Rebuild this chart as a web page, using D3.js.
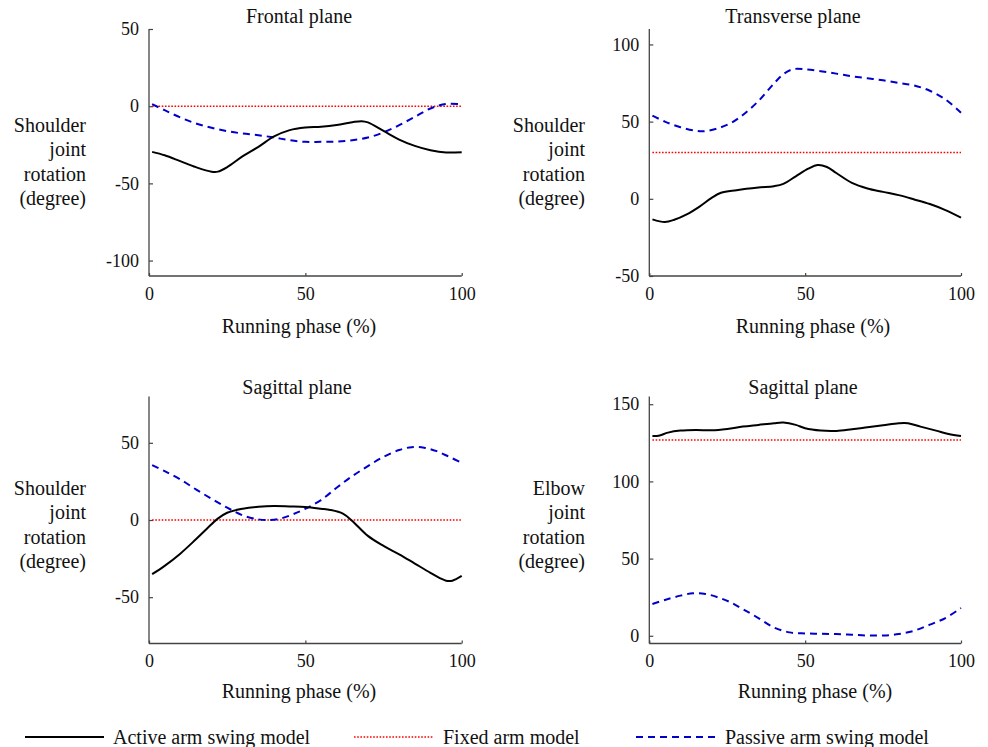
<!DOCTYPE html>
<html><head><meta charset="utf-8">
<script src="https://cdn.jsdelivr.net/npm/d3@7"></script>
<style>
body{margin:0;background:#fff;}
text{font-family:"Liberation Serif","Times New Roman",serif;fill:#111;}
</style></head>
<body><svg id="c" width="988" height="747"></svg>
<script>
// ---------- DATA ----------
const seriesNames = ["Active arm swing model","Fixed arm model","Passive arm swing model"];
const xTicks = [0,50,100];

// Panel 1: Frontal plane, shoulder
const p1Active = [[1,-29.6],[5,-31.8],[10,-35.6],[15,-39.5],[20,-42.4],[22,-42.4],[25,-39.5],[30,-32.4],[35,-26.3],[40,-19.6],[45,-15.5],[50,-13.8],[55,-13.3],[60,-12.2],[65,-10.4],[68,-9.7],[70,-10.5],[75,-16],[80,-21.6],[85,-25.7],[90,-28.5],[95,-30],[100,-29.8]];
const p1Fixed = [[1,0],[100,0]];
const p1Passive = [[1,1.3],[5,-2.6],[10,-7.3],[15,-11.2],[20,-14],[25,-16.2],[30,-17.7],[35,-18.8],[40,-20.3],[45,-22],[50,-23.1],[55,-23.1],[60,-22.9],[65,-22],[70,-20.3],[75,-17],[80,-12.3],[85,-6.9],[90,-1.5],[95,1.5],[100,1.3]];

// Panel 2: Transverse plane, shoulder
const p2Active = [[1,-13.3],[5,-15],[8,-13.6],[12,-10.1],[16,-5.2],[20,0.6],[23,3.9],[28,5.6],[35,7.3],[40,8.2],[43,9.7],[47,14.6],[51,19.5],[54,21.9],[57,20.6],[60,16.7],[65,10.3],[70,6.7],[75,4.5],[80,2.4],[85,-0.4],[90,-3.4],[95,-7.3],[100,-12.2]];
const p2Fixed = [[1,30],[100,30]];
const p2Passive = [[1,53.9],[5,50],[10,46.4],[15,44],[18,43.8],[22,45.7],[26,48.9],[30,54.3],[35,63.3],[40,74.7],[43,80.7],[46,83.9],[50,83.9],[55,82.6],[60,81.1],[65,79.4],[70,78.1],[75,76.8],[80,75.1],[85,73.4],[90,70],[95,64.4],[100,55.8]];

// Panel 3: Sagittal plane, shoulder
const p3Active = [[1,-35.1],[5,-29.7],[10,-21.8],[15,-12.5],[20,-2.8],[22,0.9],[25,4.7],[30,7.3],[35,8.6],[40,9.1],[45,8.8],[50,8.4],[55,7.3],[58,6.5],[62,4.1],[65,-0.6],[70,-10.3],[75,-16.8],[80,-22.2],[85,-28.2],[90,-34.2],[93,-37.6],[95,-39.3],[97,-39.3],[100,-36.2]];
const p3Fixed = [[1,0],[100,0]];
const p3Passive = [[1,35.6],[5,31.7],[10,26.3],[15,19.8],[20,13.8],[25,8],[30,3],[35,0.4],[38,0],[42,0.9],[46,3.7],[50,7.3],[55,12.9],[60,20.9],[65,28.4],[70,34.9],[75,40.9],[80,45.3],[84,47.2],[88,46.8],[92,44.6],[96,40.9],[100,37.1]];

// Panel 4: Sagittal plane, elbow
const p4Active = [[1,129.4],[3,129.6],[6,131.6],[10,132.9],[15,133.3],[20,133.1],[25,134],[30,135.5],[35,136.6],[40,137.7],[43,138.1],[47,136.6],[50,134.4],[55,132.9],[60,132.7],[65,133.8],[70,135.1],[75,136.4],[80,137.7],[83,137.7],[87,135.5],[92,132.9],[96,130.7],[100,129.4]];
const p4Fixed = [[1,126.8],[100,126.8]];
const p4Passive = [[1,20.6],[5,23.2],[10,26],[14,27.5],[18,27.1],[22,24.9],[26,21.7],[30,17.3],[35,11.5],[40,5.4],[45,2.2],[50,1.5],[55,1.3],[60,1.1],[65,0.7],[70,0.2],[75,0.2],[80,1.1],[85,3.3],[90,7.2],[95,11.5],[100,18]];

const titles = ["Frontal plane","Transverse plane","Sagittal plane","Sagittal plane"];
const yLabels = [["Shoulder","joint","rotation","(degree)"],["Shoulder","joint","rotation","(degree)"],["Shoulder","joint","rotation","(degree)"],["Elbow","joint","rotation","(degree)"]];
const yDomains = [[-110,50],[-50,110],[-80,80],[-5,155]];
const yTicks = [[-100,-50,0,50],[-50,0,50,100],[-50,0,50],[0,50,100,150]];
const xLabel = "Running phase (%)";

// ---------- LAYOUT ----------
const panels = [
  {x0:149, x1:461.7, yT:29, yB:276, title:[299,23], xl:[299,333], yl:[86,132], active:p1Active, fixed:p1Fixed, passive:p1Passive},
  {x0:649.3, x1:961, yT:29, yB:276, title:[793,23], xl:[813,333], yl:[585,132], active:p2Active, fixed:p2Fixed, passive:p2Passive},
  {x0:149, x1:461.7, yT:396.5, yB:643.5, title:[297,394], xl:[299,698], yl:[86,495], active:p3Active, fixed:p3Fixed, passive:p3Passive},
  {x0:649.3, x1:961, yT:396.5, yB:643.5, title:[803,394], xl:[815,698], yl:[585,495], active:p4Active, fixed:p4Fixed, passive:p4Passive}
];
const styles = {
  active:{stroke:"#000", width:2, dash:null},
  fixed:{stroke:"#ff0000", width:1.6, dash:"1.6,1.6"},
  passive:{stroke:"#0000cc", width:2, dash:"7,5"}
};

const svg = d3.select("#c");
const axisColor = "#444";

panels.forEach((p,i)=>{
  const x = d3.scaleLinear().domain([0,100]).range([p.x0,p.x1]);
  const y = d3.scaleLinear().domain(yDomains[i]).range([p.yB,p.yT]);
  const g = svg.append("g");

  const xa = g.append("g").attr("transform",`translate(0,${p.yB})`)
    .call(d3.axisBottom(x).tickValues(xTicks).tickSize(-3).tickPadding(11).tickFormat(d3.format("d")));
  const ya = g.append("g").attr("transform",`translate(${p.x0},0)`)
    .call(d3.axisLeft(y).tickValues(yTicks[i]).tickSize(-4).tickPadding(10).tickFormat(d=>d<0?"-"+Math.abs(d):d));
  [xa,ya].forEach(a=>{
    a.attr("font-family",null);
    a.select(".domain").attr("stroke",axisColor).attr("stroke-width",1.3);
    a.selectAll(".tick line").attr("stroke",axisColor).attr("stroke-width",1.2);
    a.selectAll(".tick text").attr("font-size",18).attr("fill","#111");
  });
  xa.select(".domain").attr("d",`M${p.x0},0H${p.x1}`);
  ya.select(".domain").attr("d",`M0,${p.yB}V${p.yT}`);

  const line = d3.line().x(d=>x(d[0])).y(d=>y(d[1])).curve(d3.curveCatmullRom.alpha(0.5));
  ["fixed","passive","active"].forEach(k=>{
    const s = styles[k];
    g.append("path").datum(p[k]).attr("d",line).attr("fill","none")
      .attr("stroke",s.stroke).attr("stroke-width",s.width)
      .attr("stroke-dasharray",s.dash).attr("stroke-linejoin","round");
  });

  g.append("text").attr("x",p.title[0]).attr("y",p.title[1]).attr("text-anchor","middle").attr("font-size",20).text(titles[i]);
  g.append("text").attr("x",p.xl[0]).attr("y",p.xl[1]).attr("text-anchor","middle").attr("font-size",20).text(xLabel);
  yLabels[i].forEach((t,j)=>{
    g.append("text").attr("x",p.yl[0]).attr("y",p.yl[1]+j*24.3).attr("text-anchor","end").attr("font-size",20).text(t);
  });
});

// legend
const legendX = [[25,104,113],[354,434,443],[636,715,725]];
const legKeys = ["active","fixed","passive"];
const lg = svg.append("g");
legKeys.forEach((k,i)=>{
  const s = styles[k];
  lg.append("line").attr("x1",legendX[i][0]).attr("x2",legendX[i][1]).attr("y1",737).attr("y2",737)
    .attr("stroke",s.stroke).attr("stroke-width",s.width).attr("stroke-dasharray",s.dash);
  lg.append("text").attr("x",legendX[i][2]).attr("y",744).attr("font-size",20).text(seriesNames[i]);
});
</script></body></html>
